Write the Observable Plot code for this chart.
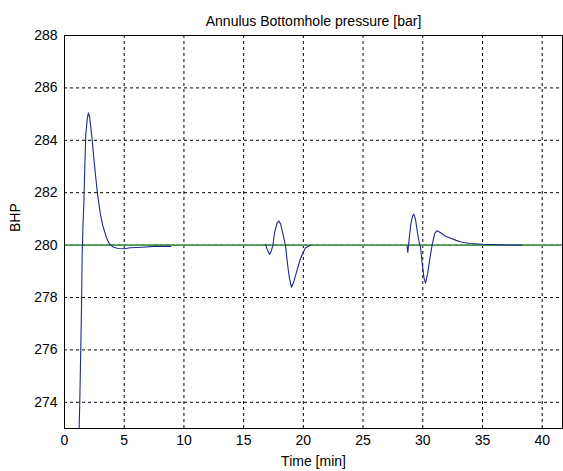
<!DOCTYPE html>
<html>
<head>
<meta charset="utf-8">
<script src="https://cdn.jsdelivr.net/npm/d3@7"></script>
<script src="https://cdn.jsdelivr.net/npm/@observablehq/plot@0.6"></script>
<style>
  html, body { margin: 0; padding: 0; background: #fff; }
  #chart svg { display: block; }
</style>
</head>
<body>
<div id="chart"></div>
<script>
// Axis ticks
const xTicks = [0, 5, 10, 15, 20, 25, 30, 35, 40];
const yTicks = [274, 276, 278, 280, 282, 284, 286, 288];
const xDomain = [0, 41.7];
const yDomain = [273, 288];

// Setpoint (green)
const refTime = [0, 41.7];
const refBHP = [280, 280];

// Measured BHP (blue), three segments
const seg1Time = [1.2, 1.28, 1.36, 1.42, 1.48, 1.55, 1.62, 1.7, 1.78, 1.9, 2.0, 2.1, 2.3, 2.5, 2.75, 3.0, 3.2, 3.5, 3.75, 4.1, 4.5, 5.0, 5.5, 6.5, 7.5, 8.9];
const seg1BHP  = [272.5, 274, 276, 277.5, 279.6, 280.8, 281.6, 283, 284.2, 284.8, 285.05, 284.9, 284.1, 283.1, 282.0, 281.2, 280.75, 280.3, 280.05, 279.92, 279.87, 279.86, 279.9, 279.92, 279.95, 279.95];

const seg2Time = [16.83, 17.0, 17.17, 17.3, 17.45, 17.6, 17.8, 17.95, 18.1, 18.3, 18.5, 18.73, 18.85, 19.01, 19.2, 19.49, 19.7, 19.9, 20.18, 20.6];
const seg2BHP  = [280.03, 279.8, 279.64, 279.75, 280.0, 280.5, 280.85, 280.92, 280.8, 280.4, 280.0, 279.07, 278.7, 278.39, 278.6, 279.07, 279.4, 279.64, 279.9, 279.99];

const seg3Time = [28.68, 28.75, 28.85, 29.0, 29.15, 29.26, 29.4, 29.55, 29.7, 29.82, 29.95, 30.1, 30.23, 30.4, 30.6, 30.8, 31.0, 31.2, 31.5, 31.9, 32.3, 32.8, 33.2, 33.9, 35.0, 36.5, 38.3];
const seg3BHP  = [279.95, 279.72, 280.2, 280.8, 281.12, 281.18, 280.95, 280.5, 280.1, 279.9, 279.3, 278.75, 278.55, 278.9, 279.5, 280.05, 280.45, 280.55, 280.47, 280.34, 280.27, 280.18, 280.12, 280.06, 280.03, 280.01, 280.0];

// Labels
const titleText = "Annulus Bottomhole pressure [bar]";
const xLabel = "Time [min]";
const yLabel = "BHP";

// Build tables
const measured = [
  ...seg1Time.map((t, i) => ({t, p: seg1BHP[i], seg: 1})),
  ...seg2Time.map((t, i) => ({t, p: seg2BHP[i], seg: 2})),
  ...seg3Time.map((t, i) => ({t, p: seg3BHP[i], seg: 3}))
];
const reference = refTime.map((t, i) => ({t, p: refBHP[i]}));

const font = "'Liberation Sans', Arial, Helvetica, sans-serif";

const chart = Plot.plot({
  width: 563,
  height: 471,
  marginLeft: 64,
  marginRight: 1,
  marginTop: 35,
  marginBottom: 43,
  style: { fontFamily: font, fontSize: "14px", background: "#fff", color: "#000" },
  x: { domain: xDomain, label: null },
  y: { domain: yDomain, label: null },
  marks: [
    Plot.gridX(xTicks, { stroke: "#000", strokeOpacity: 1, strokeWidth: 1, strokeDasharray: "3,3" }),
    Plot.gridY(yTicks, { stroke: "#000", strokeOpacity: 1, strokeWidth: 1, strokeDasharray: "3,3" }),
    Plot.lineY(reference, { x: "t", y: "p", stroke: "#4a9a50", strokeWidth: 1.6 }),
    Plot.lineY(measured, { x: "t", y: "p", z: "seg", stroke: "#1f2a8f", strokeWidth: 1.1, clip: true }),
    Plot.frame({ stroke: "#000", strokeWidth: 1 }),
    Plot.axisX(xTicks, { tickSize: 0, tickPadding: 7, fontSize: 14, label: null }),
    Plot.axisY(yTicks, { tickSize: 0, tickPadding: 7, fontSize: 14, label: null }),
    Plot.text([titleText], { text: d => d, frameAnchor: "top", lineAnchor: "middle", dy: -14, fontSize: 14 }),
    Plot.text([xLabel], { text: d => d, frameAnchor: "bottom", lineAnchor: "middle", dy: 33, fontSize: 14 }),
    Plot.text([yLabel], { text: d => d, frameAnchor: "left", lineAnchor: "middle", dx: -49, rotate: -90, fontSize: 14 })
  ]
});

document.getElementById("chart").appendChild(chart);
</script>
</body>
</html>
